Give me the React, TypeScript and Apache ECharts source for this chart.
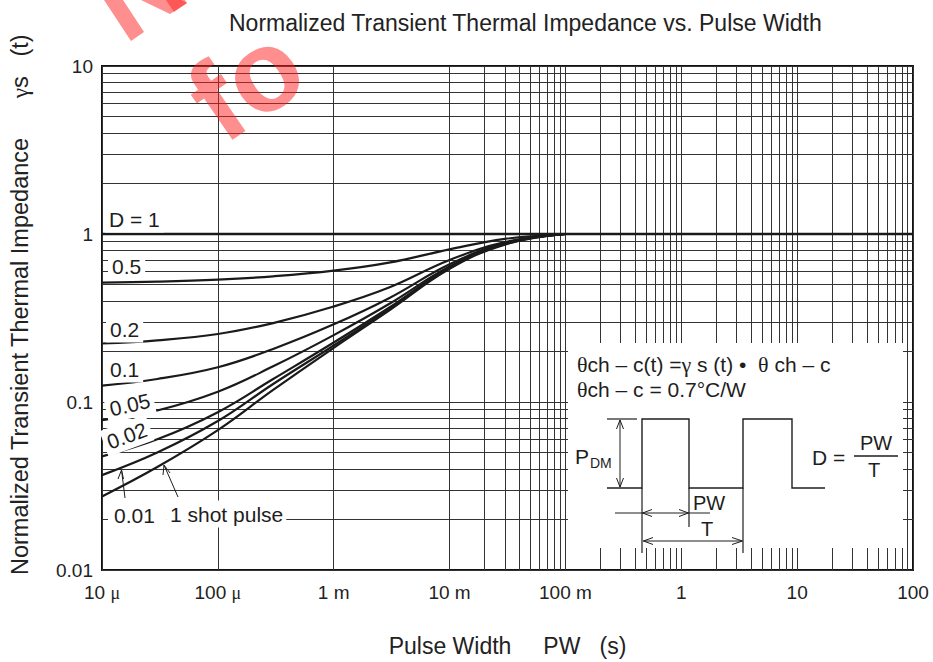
import React, { useEffect, useRef } from "react";
import * as echarts from "echarts";

const FONT = '"Liberation Sans", Arial, Helvetica, sans-serif';
const SERIF = '"Liberation Serif", "DejaVu Serif", serif';

// Pulse width (s) sample points
const pulseWidth = [1e-5, 3e-5, 1e-4, 3e-4, 1e-3, 3e-3, 1e-2, 3e-2, 1e-1];

// Normalized transient thermal impedance per duty cycle
const zD05 = [0.513, 0.52, 0.535, 0.56, 0.605, 0.675, 0.81, 0.935, 1.0];
const zD02 = [0.223, 0.233, 0.254, 0.295, 0.37, 0.48, 0.7, 0.895, 1.0];
const zD01 = [0.125, 0.137, 0.161, 0.207, 0.29, 0.415, 0.66, 0.885, 1.0];
const zD005 = [0.078, 0.089, 0.115, 0.163, 0.25, 0.383, 0.64, 0.88, 1.0];
const zD002 = [0.0475, 0.06, 0.087, 0.137, 0.226, 0.364, 0.63, 0.875, 1.0];
const zD001 = [0.0367, 0.05, 0.077, 0.128, 0.217, 0.356, 0.625, 0.87, 1.0];
const zSingle = [0.0274, 0.041, 0.068, 0.118, 0.21, 0.35, 0.62, 0.865, 1.0];

// D = 1 line
const dOneX = [1e-5, 100];
const dOneY = [1, 1];

const seriesNames = ["D = 0.5", "D = 0.2", "D = 0.1", "D = 0.05", "D = 0.02", "D = 0.01", "1 shot pulse"];
const seriesValues = [zD05, zD02, zD01, zD005, zD002, zD001, zSingle];

// Axis tick labels (by decade exponent)
const xTickExp = [-5, -4, -3, -2, -1, 0, 1, 2];
const xTickText = ["10 {u|\u03bc}", "100 {u|\u03bc}", "1 m", "10 m", "100 m", "1", "10", "100"];
const yTickExp = [-2, -1, 0, 1];
const yTickText = ["0.01", "0.1", "1", "10"];

const NB = "\u00a0";
const WM = "rgba(255,30,30,0.5)";

function minorValues(fromExp: number, toExp: number): number[] {
  const out: number[] = [];
  for (let e = fromExp; e < toExp; e++) {
    for (let m = 2; m <= 9; m++) out.push(+(m * Math.pow(10, e)).toPrecision(3));
  }
  return out;
}

function txt(text: string, x: number, y: number, size: number, extra: any = {}, align = "left") {
  return {
    type: "text",
    z: 110,
    x,
    y,
    ...extra,
    style: {
      text,
      font: `${size}px ${FONT}`,
      fill: "#1e1e1e",
      align,
      textAlign: align,
      verticalAlign: "middle",
      textVerticalAlign: "middle",
      ...(extra.style || {}),
    },
  };
}

function seg(x1: number, y1: number, x2: number, y2: number, w = 1.3) {
  return { type: "line", z: 111, shape: { x1, y1, x2, y2 }, style: { stroke: "#1e1e1e", lineWidth: w } };
}

function poly(points: number[][], w = 1.2) {
  return { type: "polyline", z: 111, shape: { points }, style: { stroke: "#1e1e1e", lineWidth: w, fill: null } };
}

function wmPolygon(points: number[][]) {
  return { type: "polygon", z: 120, silent: true, shape: { points }, style: { fill: WM } };
}

export default function App() {
  const ref = useRef<HTMLDivElement>(null);

  useEffect(() => {
    if (!ref.current) return;
    const chart = echarts.init(ref.current, undefined, { renderer: "svg" });

    const xLabel = (v: number) => {
      const e = Math.round(Math.log10(v));
      const i = xTickExp.indexOf(e);
      return i >= 0 ? xTickText[i] : "";
    };
    const yLabel = (v: number) => {
      const e = Math.round(Math.log10(v));
      const i = yTickExp.indexOf(e);
      return i >= 0 ? yTickText[i] : "";
    };

    const gridLineStyle = { color: "#333", width: 1, type: "solid" as const };

    const curveSeries = seriesNames.map((name, k) => ({
      name,
      type: "line",
      z: 5,
      data: pulseWidth.map((t, i) => [t, seriesValues[k][i]]),
      showSymbol: false,
      symbol: "none",
      smooth: 0.4,
      lineStyle: { color: "#1a1a1a", width: 2.2 },
    }));

    const labelBg = { backgroundColor: "#fff", padding: [3, 4, 3, 4] };
    const richS = { s: { fontFamily: SERIF, fontSize: 22, fill: "#1e1e1e" } };

    const graphic: any[] = [
      // curve labels
      txt("D = 1", 105, 219, 21, { style: labelBg }),
      txt("0.5", 108, 266, 21, { style: labelBg }),
      txt("0.2", 106, 329, 21, { style: labelBg }),
      txt("0.1", 106, 369, 21, { style: labelBg }),
      txt("0.05", 106, 410, 21, { rotation: 0.22, style: labelBg }),
      txt("0.02", 104, 444, 21, { rotation: 0.35, style: labelBg }),
      txt("0.01", 108, 515, 21, { style: { backgroundColor: "#fff", padding: [3, 12, 3, 6] } }),
      txt("1 shot pulse", 167, 514, 21, { style: { backgroundColor: "#fff", padding: [3, 3, 3, 3] } }),
      // pointer arrows to curves
      seg(125, 498, 121.5, 470, 1),
      poly([[118, 479], [121.5, 470], [123.5, 479]], 1),
      seg(178, 497, 164, 465, 1),
      poly([[163, 475], [164, 465], [170, 473]], 1),
      // inset box
      { type: "rect", z: 105, shape: { x: 568, y: 343, width: 335, height: 205 }, style: { fill: "#fff" } },
      {
        type: "text",
        z: 110,
        x: 577,
        y: 364,
        style: {
          text: `{s|\u03b8}ch${NB}\u2013${NB}c(t)${NB}={s|\u03b3}${NB}s${NB}(t)${NB}\u2022${NB}${NB}{s|\u03b8}${NB}ch${NB}\u2013${NB}c`,
          font: `21px ${FONT}`,
          fill: "#1e1e1e",
          verticalAlign: "middle",
          textVerticalAlign: "middle",
          rich: richS,
        },
      },
      {
        type: "text",
        z: 110,
        x: 577,
        y: 389,
        style: {
          text: `{s|\u03b8}ch${NB}\u2013${NB}c${NB}=${NB}0.7\u00b0C/W`,
          font: `21px ${FONT}`,
          fill: "#1e1e1e",
          verticalAlign: "middle",
          textVerticalAlign: "middle",
          rich: richS,
        },
      },
      // waveform
      poly([[607, 488], [642, 488], [642, 419], [689, 419], [689, 488], [743, 488], [743, 419], [792, 419], [792, 488], [825, 488]], 1.4),
      // P_DM dimension
      seg(607, 419, 637, 419, 1.2),
      seg(620, 420, 620, 487, 1),
      poly([[616.5, 429], [620, 420], [623.5, 429]], 1),
      poly([[616.5, 478], [620, 487], [623.5, 478]], 1),
      txt("P", 575, 456, 21),
      txt("DM", 590, 463, 14),
      // PW dimension
      seg(642, 488, 642, 553, 1.2),
      seg(689, 488, 689, 527, 1.2),
      seg(743, 488, 743, 553, 1.2),
      seg(615, 513, 710, 513, 1),
      poly([[652, 509.5], [642.5, 513], [652, 516.5]], 1),
      poly([[679, 509.5], [688.5, 513], [679, 516.5]], 1),
      txt("PW", 693, 503, 20),
      // T dimension
      seg(643, 541, 742, 541, 1),
      poly([[653, 537.5], [643.5, 541], [653, 544.5]], 1),
      poly([[732, 537.5], [742.5, 541], [732, 544.5]], 1),
      txt("T", 707, 529, 20, {}, "center"),
      // D = PW / T
      txt("D =", 812, 457, 21),
      seg(854, 456, 898, 456, 1.3),
      txt("PW", 876, 443, 20, {}, "center"),
      txt("T", 874, 470, 20, {}, "center"),
      // watermark: fragment of a letter cut by the page edge
      wmPolygon([[131, 41], [144, 32], [123, 0], [104, 0]]),
      wmPolygon([[170, 14], [187, 3], [181, 0], [141, 0]]),
      wmPolygon([[174, 12], [187, 3], [185, 0], [166, 0]]),
      // watermark word fragment
      {
        type: "text",
        z: 120,
        x: 201,
        y: 113,
        rotation: 0.6,
        silent: true,
        style: {
          text: "fo",
          font: `bold 115px ${FONT}`,
          lineHeight: 88,
          fill: WM,
          align: "left",
          textAlign: "left",
          verticalAlign: "middle",
          textVerticalAlign: "middle",
        },
      },
    ];

    const option: any = {
      animation: false,
      backgroundColor: "#ffffff",
      textStyle: { fontFamily: FONT },
      title: {
        text: "Normalized Transient Thermal Impedance vs. Pulse Width",
        left: 224,
        top: 6,
        textStyle: { fontFamily: FONT, fontSize: 23, fontWeight: "normal", color: "#222" },
      },
      grid: {
        left: 99,
        top: 66,
        width: 814,
        height: 510,
        show: true,
        borderColor: "#111",
        borderWidth: 2,
        backgroundColor: "transparent",
      },
      xAxis: {
        type: "log",
        logBase: 10,
        min: 1e-5,
        max: 100,
        splitNumber: 7,
        axisLine: { show: false },
        axisTick: { show: false },
        splitLine: { show: true, lineStyle: gridLineStyle },
        axisLabel: {
          formatter: xLabel,
          margin: 13,
          fontSize: 19,
          color: "#222",
          fontFamily: FONT,
          rich: { u: { fontFamily: SERIF, fontSize: 18, color: "#222" } },
        },
        name: `Pulse Width${NB}${NB}${NB}${NB}${NB}PW${NB}${NB}${NB}(s)`,
        nameLocation: "middle",
        nameGap: 64,
        nameTextStyle: { fontFamily: FONT, fontSize: 23, color: "#222" },
      },
      yAxis: {
        type: "log",
        logBase: 10,
        min: 0.01,
        max: 10,
        splitNumber: 3,
        axisLine: { show: false },
        axisTick: { show: false },
        splitLine: { show: true, lineStyle: gridLineStyle },
        axisLabel: { formatter: yLabel, margin: 9, fontSize: 19, color: "#222", fontFamily: FONT },
        name: `${NB}${NB}${NB}${NB}Normalized Transient Thermal Impedance${NB}${NB}${NB}${NB}${NB}${NB}{g|\u03b3}s${NB}${NB}${NB}(t)`,
        nameLocation: "middle",
        nameGap: 70,
        nameTextStyle: {
          fontFamily: FONT,
          fontSize: 23.5,
          color: "#222",
          rich: { g: { fontFamily: SERIF, fontSize: 23.5, color: "#222" } },
        },
      },
      series: [
        {
          name: "D = 1",
          type: "line",
          z: 6,
          data: dOneX.map((t, i) => [t, dOneY[i]]),
          showSymbol: false,
          symbol: "none",
          lineStyle: { color: "#1a1a1a", width: 2.6 },
          markLine: {
            silent: true,
            symbol: ["none", "none"],
            label: { show: false },
            lineStyle: gridLineStyle,
            z: 1,
            data: [
              ...minorValues(-5, 2).map((v) => ({ xAxis: v })),
              ...minorValues(-2, 1).map((v) => ({ yAxis: v })),
            ],
          },
        },
        ...curveSeries,
      ],
      graphic,
    };

    chart.setOption(option);
    return () => chart.dispose();
  }, []);

  return (
    <div
      ref={ref}
      style={{ position: "fixed", left: 0, top: 0, width: 933, height: 662, background: "#fff" }}
    />
  );
}
